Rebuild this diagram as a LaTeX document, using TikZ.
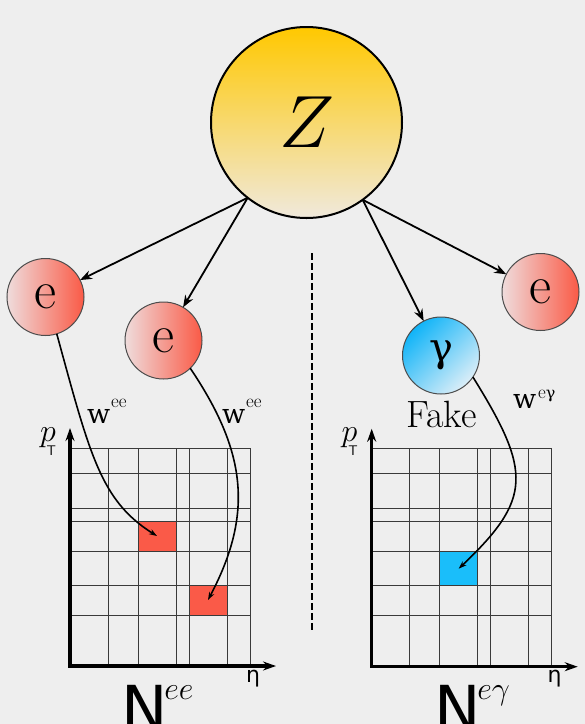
\documentclass[tikz,border=0pt]{standalone}
\usepackage{fix-cm}
\usepackage{fontspec}
\newfontfamily\dvsans{DejaVu Sans}
\newfontfamily\dvserif{DejaVu Serif}
\usetikzlibrary{arrows.meta}
\definecolor{bg}{HTML}{EEEEEE}
\definecolor{zT}{HTML}{FFC800}
\definecolor{zB}{HTML}{F0E9DC}
\definecolor{eL}{HTML}{EFDCDC}
\definecolor{eR}{HTML}{FA5A46}
\definecolor{gT}{HTML}{10B4F8}
\definecolor{gB}{HTML}{DCEEF8}
\definecolor{redcell}{HTML}{FA5A48}
\definecolor{bluecell}{HTML}{1ABEFA}
\definecolor{gridc}{HTML}{3A3A3A}
\tikzset{
  pics/histgrid/.style={code={
    \foreach \dx in {38,68,106,119,157,180} \draw[gridline] (\dx,0) -- (\dx,-218);
    \foreach \dy in {51,81,115,145,158,193,218} \draw[gridline] (0,-\dy) -- (180,-\dy);
    \draw[axisline] (0,-238) -- (0,0) -- (206,0);
  }}
}
\begin{document}
\begin{tikzpicture}[x=1pt,y=-1pt,
  every node/.style={inner sep=0pt, outer sep=0pt},
  particle/.style={circle, minimum size=77pt, draw=black!70, line width=1pt},
  ecirc/.style={particle, left color=eL, right color=eR},
  gcirc/.style={particle, top color=gT, bottom color=gB, shading angle=45},
  zcirc/.style={circle, minimum size=191pt, draw=black, line width=2pt, top color=zT, bottom color=zB},
  mainarrow/.style={line width=1.8pt, -{Stealth[length=12pt,width=9pt]}},
  curvearrow/.style={line width=1.6pt, -{Stealth[length=8pt,width=5.5pt]}},
  gridline/.style={line width=1pt, draw=gridc},
  axisline/.style={line width=3.3pt, {Stealth[length=13pt,width=9pt]}-{Stealth[length=13pt,width=9pt]}},
  sepline/.style={line width=2pt, dash pattern=on 7pt off 3pt},
  cellred/.style={fill=redcell, minimum width=38pt, minimum height=30pt},
  cellblue/.style={fill=bluecell, minimum width=38pt, minimum height=34pt},
]
\fill[bg] (0,0) rectangle (585,724);
\useasboundingbox (0,0) rectangle (585,724);

% particles
\node[zcirc] (Z) at (306.5,122.5) {\fontsize{74}{74}\selectfont $Z$};
\node[ecirc] (e1) at (45.5,297) {\fontsize{54}{54}\selectfont e};
\node[ecirc] (e2) at (163.5,340.5) {\fontsize{54}{54}\selectfont e};
\node[ecirc] (e3) at (540.5,292) {\fontsize{54}{54}\selectfont e};
\node[gcirc] (g) at (441,355.5) {\dvserif\fontsize{40}{40}\selectfont γ};
\node[anchor=base] (fake) at (441.5,427) {\fontsize{38}{38}\selectfont Fake};

% decay arrows
\draw[mainarrow] (Z.232) -- (e1);
\draw[mainarrow] (Z.232) -- (e2);
\draw[mainarrow] (Z.306) -- (g);
\draw[mainarrow] (Z.306) -- (e3);

% separator
\draw[sepline] (311.7,253) -- (311.7,633);

% cells
\node[cellred] (c1) at (157,536) {};
\node[cellred] (c2) at (208,600) {};
\node[cellblue] (c3) at (458.7,568.7) {};

% grids
\pic at (70,666) {histgrid};
\pic at (371.7,666.7) {histgrid};

% axis labels
\node[anchor=base west] (pT1) at (40,441) {{\fontsize{32}{32}\selectfont$p$}\kern-9pt\raisebox{-14pt}{\sffamily\fontsize{14}{14}\selectfont T}};
\node[anchor=base west] (pT2) at (341.7,441.7) {{\fontsize{32}{32}\selectfont$p$}\kern-9pt\raisebox{-14pt}{\sffamily\fontsize{14}{14}\selectfont T}};
\node[anchor=base west] (eta1) at (246,682) {\dvsans\fontsize{22}{22}\selectfont η};
\node[anchor=base west] (eta2) at (547.7,682.7) {\dvsans\fontsize{22}{22}\selectfont η};

% histogram names
\node[anchor=base west] (N1) at (121,730) {{\dvsans\fontsize{62}{62}\selectfont N}\kern-3pt\raisebox{31pt}{\fontsize{32}{32}\selectfont$ee$}};
\node[anchor=base west] (N2) at (434,730) {{\dvsans\fontsize{62}{62}\selectfont N}\kern-3pt\raisebox{31pt}{\fontsize{32}{32}\selectfont$e\gamma$}};

% weights
\node[anchor=base west] (w1) at (87,423) {{\dvserif\fontsize{27}{27}\selectfont w}\kern1pt\raisebox{16pt}{\fontsize{19}{19}\selectfont ee}};
\node[anchor=base west] (w2) at (222,423) {{\dvserif\fontsize{27}{27}\selectfont w}\kern1pt\raisebox{16pt}{\fontsize{19}{19}\selectfont ee}};
\node[anchor=base west] (w3) at (513,408) {{\dvserif\fontsize{27}{27}\selectfont w}\kern2pt\raisebox{10pt}{\fontsize{19}{19}\selectfont e{\dvserif\fontsize{16}{16}\selectfont γ}}};

% weight arrows
\draw[curvearrow] (e1.287) .. controls (90,455) and (100.5,500.6) .. (c1.center);
\draw[curvearrow] (e2.314) .. controls (246,451) and (254,513) .. (c2.center);
\draw[curvearrow] (g.326) .. controls (532,472) and (532,499) .. (c3.center);
\end{tikzpicture}
\end{document}
